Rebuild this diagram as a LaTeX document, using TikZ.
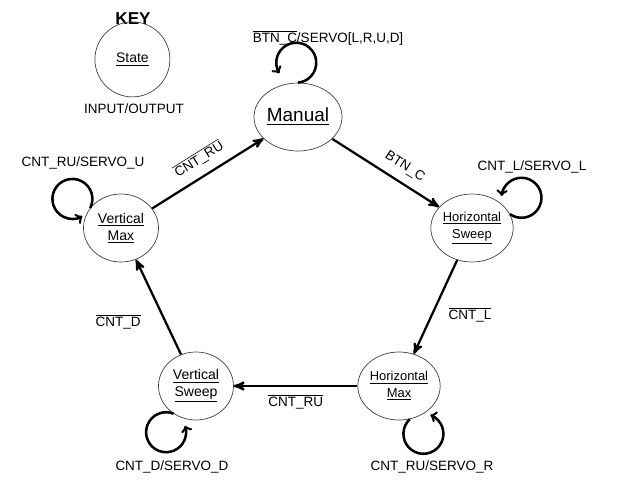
\documentclass[tikz,border=0pt]{standalone}
\usepackage{fontspec}
\setmainfont{Liberation Sans}
\usepackage{amsmath}
\usetikzlibrary{arrows}
\usetikzlibrary{shapes.geometric}

\tikzset{
  statecirc/.style={ellipse, draw=black!75, line width=0.5pt, inner sep=0pt,
    minimum width=1.875cm, minimum height=1.7cm, align=center,
    font=\fontsize{10}{12}\selectfont},
  trans/.style={line width=1.6pt, -stealth'},
  selfloop/.style={line width=1.8pt, -to},
  lbl/.style={font=\fontsize{9.6}{11}\selectfont, inner sep=1pt}
}
\newcommand{\ov}[1]{$\overline{\mbox{#1}}$}

\begin{document}
\begin{tikzpicture}
    \useasboundingbox (0,0) rectangle (15.5,12.575);
    % key
    \node[font=\bfseries\fontsize{12.2}{14}\selectfont] (key) at (3.325,12.1) {KEY};
    \node[statecirc, minimum height=1.875cm, font=\fontsize{9.9}{12}\selectfont] (state) at (3.31,11.09) {\underline{State}};
    \node[lbl] (inout) at (3.35,9.85) {INPUT/OUTPUT};
    % states
    \node[statecirc, font=\fontsize{13.5}{15}\selectfont] (man) at (7.45,9.65) {\underline{Manual}};
    \node[statecirc, font=\fontsize{9.2}{12}\selectfont] (hsw) at (11.8,6.875) {\underline{Horizontal}\\\underline{Sweep}};
    \node[statecirc] (vmax) at (3.025,6.875) {\underline{Vertical}\\\underline{Max}};
    \node[statecirc] (vsw) at (4.9,2.925) {\underline{Vertical}\\\underline{Sweep}};
    \node[statecirc, font=\fontsize{9.2}{12}\selectfont] (hmax) at (9.975,2.925) {\underline{Horizontal}\\\underline{Max}};
    % transitions
    \draw[trans] (man) to node[lbl, sloped, above=5pt, pos=0.6] {BTN\_C} (hsw);
    \draw[trans] (hsw) to node[lbl, right=10pt, pos=0.58] {\ov{CNT\_L}} (hmax);
    \draw[trans] (hmax) to node[lbl, below=4pt] {\ov{CNT\_RU}} (vsw);
    \draw[trans] (vsw) to node[lbl, left=16pt, pos=0.34] {\ov{CNT\_D}} (vmax);
    \draw[trans] (vmax) to node[lbl, sloped, above=5pt] {\ov{CNT\_RU}} (man);
    % self loops
    \draw[selfloop] (man.north) arc[start angle=-85, end angle=212, radius=0.5];
    \draw[selfloop] (vmax.147) arc[start angle=-27, end angle=300, radius=0.5];
    \draw[selfloop] (hsw.20) arc[start angle=235, end angle=535, radius=0.5];
    \draw[selfloop] (vsw.231) arc[start angle=68, end angle=379, radius=0.5];
    \draw[selfloop] (hmax.-72) arc[start angle=133, end angle=430, radius=0.5];
    \node[lbl] (manloop) at (8.2,11.625) {\ov{BTN\_C}/SERVO[L,R,U,D]};
    \node[lbl] (vmaxloop) at (2.075,8.5) {CNT\_RU/SERVO\_U};
    \node[lbl] (hswloop) at (13.3,8.4) {CNT\_L/SERVO\_L};
    \node[lbl] (vswloop) at (4.3,0.9) {CNT\_D/SERVO\_D};
    \node[lbl] (hmaxloop) at (10.8,0.9) {CNT\_RU/SERVO\_R};
\end{tikzpicture}
\end{document}
